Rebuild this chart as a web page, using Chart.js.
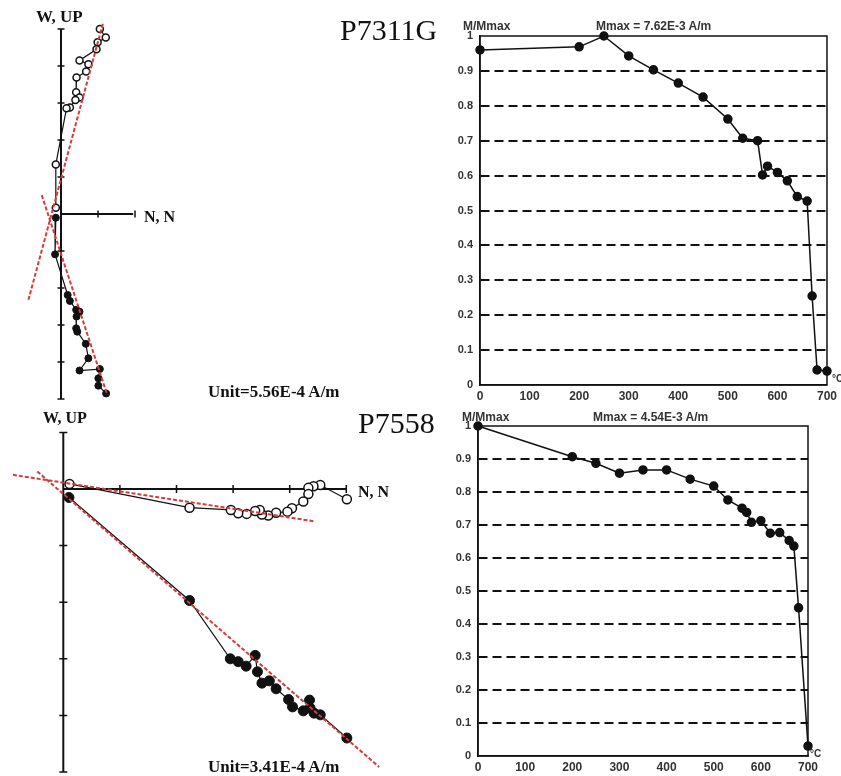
<!DOCTYPE html>
<html>
<head>
<meta charset="utf-8">
<script src="https://cdn.jsdelivr.net/npm/chart.js@4.4.0/dist/chart.umd.min.js"></script>
<style>
    body { margin: 0; background: #fff; width: 841px; height: 776px; position: relative; overflow: hidden; }
    canvas { position: absolute; }
    .lbl { position: absolute; white-space: nowrap; line-height: 1; color: #111; }
    .serif { font-family: "Liberation Serif", "Times New Roman", serif; }
    .sans { font-family: "Liberation Sans", Arial, sans-serif; font-weight: bold; color: #333; }
</style>
</head>
<body>
<canvas id="zijTop" width="330" height="405" style="left:0;top:0"></canvas>
<canvas id="zijBottom" width="400" height="371" style="left:0;top:405px"></canvas>
<canvas id="demagTop" width="411" height="400" style="left:430px;top:0"></canvas>
<canvas id="demagBottom" width="411" height="381" style="left:430px;top:390px"></canvas>

<div class="lbl serif" style="left:340px;top:15px;font-size:30px">P7311G</div>
<div class="lbl serif" style="left:358px;top:408px;font-size:30px">P7558</div>
<div class="lbl serif" style="left:36px;top:8px;font-size:17px;font-weight:bold">W, UP</div>
<div class="lbl serif" style="left:43px;top:410px;font-size:16px;font-weight:bold">W, UP</div>
<div class="lbl serif" style="left:144px;top:209px;font-size:16px;font-weight:bold">N, N</div>
<div class="lbl serif" style="left:358px;top:484px;font-size:16px;font-weight:bold">N, N</div>
<div class="lbl serif" style="left:208px;top:383px;font-size:17px;font-weight:bold">Unit=5.56E-4 A/m</div>
<div class="lbl serif" style="left:208px;top:758px;font-size:17px;font-weight:bold">Unit=3.41E-4 A/m</div>

<div class="lbl sans" style="left:463px;top:20px;font-size:12px">M/Mmax</div>
<div class="lbl sans" style="left:596px;top:20px;font-size:12px">Mmax = 7.62E-3 A/m</div>
<div class="lbl sans" style="left:832px;top:374px;font-size:10px">°C</div>
<div class="lbl sans" style="left:462px;top:411px;font-size:12px">M/Mmax</div>
<div class="lbl sans" style="left:593px;top:411px;font-size:12px">Mmax = 4.54E-3 A/m</div>
<div class="lbl sans" style="left:810px;top:749px;font-size:10px">°C</div>

<script>
// ---- demagnetization curves (temperature in °C, M/Mmax)
const tempsTop = [0, 200, 250, 300, 350, 400, 450, 500, 530, 560, 570, 580, 600, 620, 640, 660, 670, 680, 700];
const magTop = [0.960, 0.969, 1.0, 0.943, 0.903, 0.865, 0.825, 0.762, 0.707, 0.700, 0.602, 0.627, 0.609, 0.585, 0.540, 0.527, 0.255, 0.043, 0.040];

const tempsBottom = [0, 200, 250, 300, 350, 400, 450, 500, 530, 560, 570, 580, 600, 620, 640, 660, 670, 680, 700];
const magBottom = [1.0, 0.907, 0.887, 0.857, 0.867, 0.867, 0.839, 0.818, 0.776, 0.751, 0.738, 0.708, 0.713, 0.675, 0.677, 0.653, 0.636, 0.449, 0.030];

const tempTicks = [0, 100, 200, 300, 400, 500, 600, 700];
const fracTicks = [0, 0.1, 0.2, 0.3, 0.4, 0.5, 0.6, 0.7, 0.8, 0.9, 1];
const fracLabels = ['0', '0.1', '0.2', '0.3', '0.4', '0.5', '0.6', '0.7', '0.8', '0.9', '1'];

// ---- Zijderveld P7311G (units of 5.56E-4 A/m)
const topOpenX = [1.05, 1.21, 0.99, 0.96, 0.50, 0.74, 0.68, 0.42, 0.41, 0.50, 0.39, 0.24, 0.15, -0.14, -0.14];
const topOpenY = [5.00, 4.77, 4.64, 4.45, 4.15, 4.05, 3.85, 3.69, 3.29, 3.15, 3.08, 2.88, 2.86, 1.34, 0.17];
const topFilledX = [-0.14, -0.16, 0.18, 0.24, 0.41, 0.50, 0.42, 0.41, 0.44, 0.67, 0.74, 0.50, 1.05, 1.01, 1.01, 1.22];
const topFilledY = [-0.10, -1.09, -2.19, -2.35, -2.59, -2.64, -2.77, -3.09, -3.18, -3.51, -3.90, -4.23, -4.19, -4.44, -4.64, -4.85];
const topFitA = [[1.13, 5.14], [-0.88, -2.32]];
const topFitB = [[-0.52, 0.51], [1.25, -4.89]];
const topAxisV = [-5, 5];
const topAxisH = [0, 1.95];

// ---- Zijderveld P7558 (units of 3.41E-4 A/m)
const botOpenX = [5.01, 4.54, 4.42, 4.33, 4.33, 4.24, 4.04, 3.96, 3.76, 3.62, 3.51, 3.47, 3.39, 3.24, 3.09, 2.96, 2.23, 0.11];
const botOpenY = [-0.18, 0.07, 0.05, 0.02, -0.09, -0.22, -0.34, -0.40, -0.42, -0.47, -0.45, -0.37, -0.39, -0.44, -0.43, -0.37, -0.33, 0.09];
const botFilledX = [5.01, 4.54, 4.43, 4.36, 4.35, 4.24, 4.05, 3.98, 3.76, 3.64, 3.51, 3.43, 3.39, 3.23, 3.09, 2.95, 2.23, 0.10];
const botFilledY = [-4.40, -3.99, -3.96, -3.87, -3.73, -3.92, -3.85, -3.72, -3.53, -3.39, -3.43, -3.23, -2.94, -3.13, -3.05, -3.00, -1.97, -0.15];
const botFitA = [[-0.89, 0.25], [4.43, -0.57]];
const botFitB = [[-0.46, 0.31], [5.58, -4.91]];
const botAxisV = [-5, 1];
const botAxisH = [0, 5];

const pts = (xs, ys) => xs.map((x, i) => ({ x: x, y: ys[i] }));
const range = (a, b) => { const r = []; for (let v = a; v <= b; v++) r.push(v); return r; };

// cross-shaped axes through the origin with tick marks
const crossAxes = {
    id: 'crossAxes',
    beforeDatasetsDraw(chart, args, opts) {
        const { ctx, scales: { x, y } } = chart;
        const x0 = x.getPixelForValue(0), y0 = y.getPixelForValue(0);
        ctx.save();
        ctx.strokeStyle = '#111';
        ctx.lineWidth = 2;
        ctx.beginPath();
        ctx.moveTo(x0, y.getPixelForValue(opts.v[0]));
        ctx.lineTo(x0, y.getPixelForValue(opts.v[1]));
        ctx.moveTo(x.getPixelForValue(opts.h[0]), y0);
        ctx.lineTo(x.getPixelForValue(opts.h[1]), y0);
        ctx.stroke();
        ctx.lineWidth = 1.5;
        ctx.beginPath();
        range(Math.ceil(opts.v[0]), Math.floor(opts.v[1])).forEach(v => {
            if (v === 0) return;
            const py = y.getPixelForValue(v);
            ctx.moveTo(x0 - opts.t, py);
            ctx.lineTo(x0 + opts.t, py);
        });
        range(1, Math.round(opts.h[1])).forEach(v => {
            const px = x.getPixelForValue(v);
            ctx.moveTo(px, y0 - opts.t);
            ctx.lineTo(px, y0 + opts.t);
        });
        ctx.stroke();
        ctx.restore();
    }
};

function zijChart(id, open, filled, fits, lim, axes, rOpen, rFilled) {
    const fitSets = fits.map(f => ({
        data: f.map(p => ({ x: p[0], y: p[1] })),
        showLine: true,
        borderColor: '#d23c3c',
        borderWidth: 2,
        borderDash: [4, 2],
        pointRadius: 0,
        clip: false,
        order: 0
    }));
    new Chart(document.getElementById(id), {
        type: 'scatter',
        data: {
            datasets: [
                ...fitSets,
                {
                    data: filled,
                    showLine: true,
                    borderColor: '#111',
                    borderWidth: 1.2,
                    pointRadius: rFilled,
                    pointBackgroundColor: '#111',
                    pointBorderColor: '#111',
                    pointBorderWidth: 1,
                    clip: false,
                    order: 1
                },
                {
                    data: open,
                    showLine: true,
                    borderColor: '#111',
                    borderWidth: 1.2,
                    pointRadius: rOpen,
                    pointBackgroundColor: '#fff',
                    pointBorderColor: '#111',
                    pointBorderWidth: 1.5,
                    clip: false,
                    order: 1
                }
            ]
        },
        options: {
            responsive: false,
            animation: false,
            events: [],
            layout: { padding: 0, autoPadding: false },
            plugins: {
                legend: { display: false },
                tooltip: { enabled: false },
                crossAxes: axes
            },
            scales: {
                x: { type: 'linear', display: false, min: lim[0], max: lim[1] },
                y: { type: 'linear', display: false, min: lim[2], max: lim[3] }
            }
        },
        plugins: [crossAxes]
    });
}

// plot frame for the demag charts
const frame = {
    id: 'frame',
    afterDatasetsDraw(chart) {
        const { ctx, chartArea: a } = chart;
        ctx.save();
        ctx.strokeStyle = '#111';
        ctx.lineWidth = 1.5;
        ctx.strokeRect(a.left, a.top, a.right - a.left, a.bottom - a.top);
        ctx.restore();
    }
};

function demagChart(id, temps, vals, pad, yWidth) {
    const tickFont = { family: '"Liberation Sans", Arial, sans-serif', weight: 'bold', size: 11 };
    new Chart(document.getElementById(id), {
        type: 'line',
        data: {
            datasets: [{
                data: pts(temps, vals),
                borderColor: '#111',
                borderWidth: 1.5,
                pointRadius: 4,
                pointBackgroundColor: '#111',
                pointBorderColor: '#111',
                tension: 0,
                clip: false
            }]
        },
        options: {
            responsive: false,
            animation: false,
            events: [],
            layout: { padding: pad, autoPadding: false },
            plugins: {
                legend: { display: false },
                tooltip: { enabled: false }
            },
            scales: {
                x: {
                    type: 'linear',
                    min: 0,
                    max: 700,
                    afterBuildTicks: s => { s.ticks = tempTicks.map(v => ({ value: v })); },
                    afterFit: s => { s.height = 15; },
                    grid: { display: false, drawTicks: false },
                    border: { color: '#111', width: 1.5 },
                    ticks: { padding: 4, color: '#333', font: { ...tickFont, size: 12 }, maxRotation: 0, autoSkip: false }
                },
                y: {
                    type: 'linear',
                    min: 0,
                    max: 1,
                    afterBuildTicks: s => { s.ticks = fracTicks.map(v => ({ value: v })); },
                    afterFit: s => { s.width = yWidth; },
                    grid: {
                        drawTicks: false,
                        lineWidth: 2,
                        color: c => (c.tick && c.tick.value > 0.05 && c.tick.value < 0.95) ? '#111' : 'rgba(0,0,0,0)'
                    },
                    border: { color: '#111', width: 1.5, dash: [9, 5] },
                    ticks: { padding: 7, color: '#333', font: tickFont, autoSkip: false, callback: (v, i) => fracLabels[i] }
                }
            }
        },
        plugins: [frame]
    });
}

// px = 61 + 37u, py = 214 - 37u  (top panel)
zijChart('zijTop', pts(topOpenX, topOpenY), pts(topFilledX, topFilledY), [topFitA, topFitB],
    [-61 / 37, (330 - 61) / 37, (214 - 405) / 37, 214 / 37],
    { v: topAxisV, h: topAxisH, t: 3.5 }, 3.5, 3.5);

// px = 63.3 + 56.6u, py = 489 - 56.6u  (bottom panel, canvas top 405)
zijChart('zijBottom', pts(botOpenX, botOpenY), pts(botFilledX, botFilledY), [botFitA, botFitB],
    [-63.3 / 56.6, (400 - 63.3) / 56.6, (489 - 776) / 56.6, (489 - 405) / 56.6],
    { v: botAxisV, h: botAxisH, t: 4 }, 4.5, 5);

demagChart('demagTop', tempsTop, magTop, { top: 36, right: 13, bottom: 0, left: 0 }, 50);
demagChart('demagBottom', tempsBottom, magBottom, { top: 36, right: 33, bottom: 0, left: 0 }, 48);
</script>
</body>
</html>
